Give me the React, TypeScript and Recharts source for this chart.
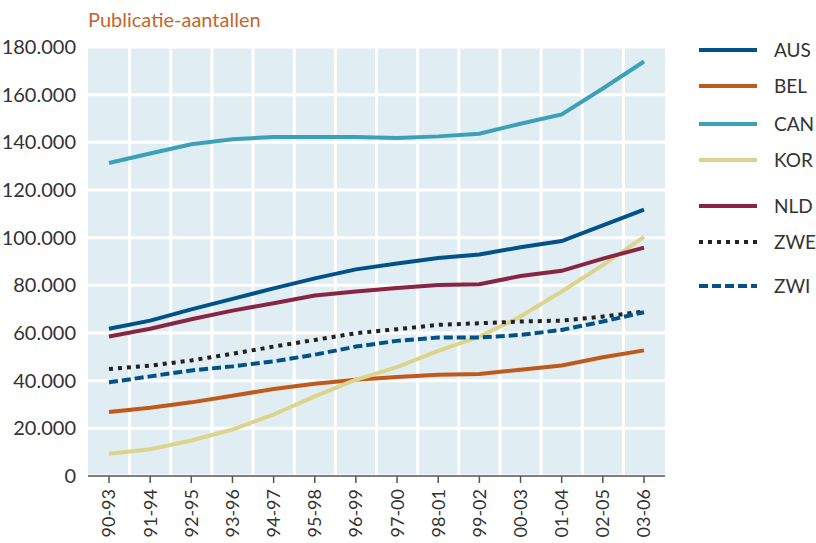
import { CartesianGrid, Line, LineChart, XAxis, YAxis } from 'recharts'

const periods = ['90-93', '91-94', '92-95', '93-96', '94-97', '95-98', '96-99', '97-00', '98-01', '99-02', '00-03', '01-04', '02-05', '03-06']
const aus = [61800, 65200, 69900, 74300, 78700, 82900, 86700, 89200, 91500, 92900, 96000, 98600, 105200, 111800]
const bel = [26900, 28600, 30900, 33700, 36500, 38700, 40400, 41500, 42500, 42800, 44600, 46400, 49800, 52700]
const can = [131300, 135300, 139200, 141300, 142200, 142200, 142200, 141800, 142500, 143600, 147800, 151700, 162600, 173900]
const kor = [9300, 11200, 14900, 19500, 25800, 33400, 40400, 45700, 52500, 58500, 66900, 77400, 88500, 100300]
const nld = [58500, 61800, 65800, 69400, 72500, 75700, 77400, 78900, 80100, 80500, 83900, 86100, 91200, 95800]
const zwe = [44900, 46300, 48500, 51300, 54300, 57100, 59900, 61600, 63400, 64100, 64800, 65200, 66900, 69000]
const zwi = [39300, 41800, 44300, 46000, 48100, 50900, 54300, 56700, 58100, 58100, 59200, 61300, 64800, 68700]
const yTicks = [0, 20000, 40000, 60000, 80000, 100000, 120000, 140000, 160000, 180000]

const series = [
  { key: 'AUS', values: aus, color: '#005289', dash: undefined },
  { key: 'BEL', values: bel, color: '#c05a1c', dash: undefined },
  { key: 'CAN', values: can, color: '#3ba1b9', dash: undefined },
  { key: 'KOR', values: kor, color: '#ddd48c', dash: undefined },
  { key: 'NLD', values: nld, color: '#8a2443', dash: undefined },
  { key: 'ZWE', values: zwe, color: '#222222', dash: '4 5' },
  { key: 'ZWI', values: zwi, color: '#005289', dash: '9 4' },
]
const legendRows = [50, 86, 124, 160, 206, 242, 286]

const data = periods.map((p, i) => {
  const row: any = { period: p }
  series.forEach(s => { row[s.key] = s.values[i] })
  return row
})

const FONT = 'Lato, sans-serif'
const X_PAD = 21
const MARGIN = { top: 47, right: 151, bottom: 0, left: 0 }

const fmt = (v: number) => String(v).replace(/\B(?=(\d{3})+(?!\d))/g, '.')

function XTick({ x, y, payload }: any) {
  return (
    <g transform={`translate(${x},${y})`}>
      <text transform="rotate(-90)" x={-4} y={0} dy="0.36em" textAnchor="end" fill="#333" fontSize={18} fontFamily={FONT}>
        {payload.value}
      </text>
    </g>
  )
}

const verticalGrid = ({ offset }: any) => {
  const left = offset?.left ?? 88
  const width = offset?.width ?? 577
  const step = (width - 2 * X_PAD) / (periods.length - 1)
  return periods.slice(1).map((_, i) => left + X_PAD + (i + 0.5) * step)
}

export default function App() {
  return (
    <div style={{ position: 'absolute', left: 0, top: 0, width: 816, height: 543, background: '#fff', fontFamily: FONT }}>
      <div style={{ position: 'absolute', left: 88, top: 7, fontSize: 20, color: '#c5652b' }}>Publicatie-aantallen</div>
      <LineChart width={816} height={543} data={data} margin={MARGIN}>
        <CartesianGrid fill="#e0edf3" stroke="#ffffff" strokeWidth={3} verticalCoordinatesGenerator={verticalGrid} />
        <XAxis
          dataKey="period"
          padding={{ left: X_PAD, right: X_PAD }}
          interval={0}
          height={67}
          tick={<XTick />}
          tickSize={7}
          stroke="#555"
          axisLine={{ stroke: '#555', strokeWidth: 1.5 }}
          tickLine={{ stroke: '#555', strokeWidth: 1.5 }}
        />
        <YAxis
          domain={[0, 180000]}
          ticks={yTicks}
          width={88}
          axisLine={false}
          tickLine={false}
          tickMargin={6}
          tickFormatter={fmt}
          tick={{ fill: '#333', fontSize: 20, fontFamily: FONT }}
        />
        {series.map(s => (
          <Line
            key={s.key}
            dataKey={s.key}
            stroke={s.color}
            strokeWidth={4}
            strokeDasharray={s.dash}
            dot={false}
            activeDot={false}
            type="linear"
            isAnimationActive={false}
          />
        ))}
      </LineChart>
      <svg style={{ position: 'absolute', left: 0, top: 0 }} width={816} height={543}>
        {series.map((s, i) => (
          <g key={s.key}>
            <line x1={699} x2={757} y1={legendRows[i]} y2={legendRows[i]} stroke={s.color} strokeWidth={4} strokeDasharray={s.dash} />
            <text x={774} y={legendRows[i]} dy="0.36em" fontSize={19} fill="#333" fontFamily={FONT}>{s.key}</text>
          </g>
        ))}
      </svg>
    </div>
  )
}
